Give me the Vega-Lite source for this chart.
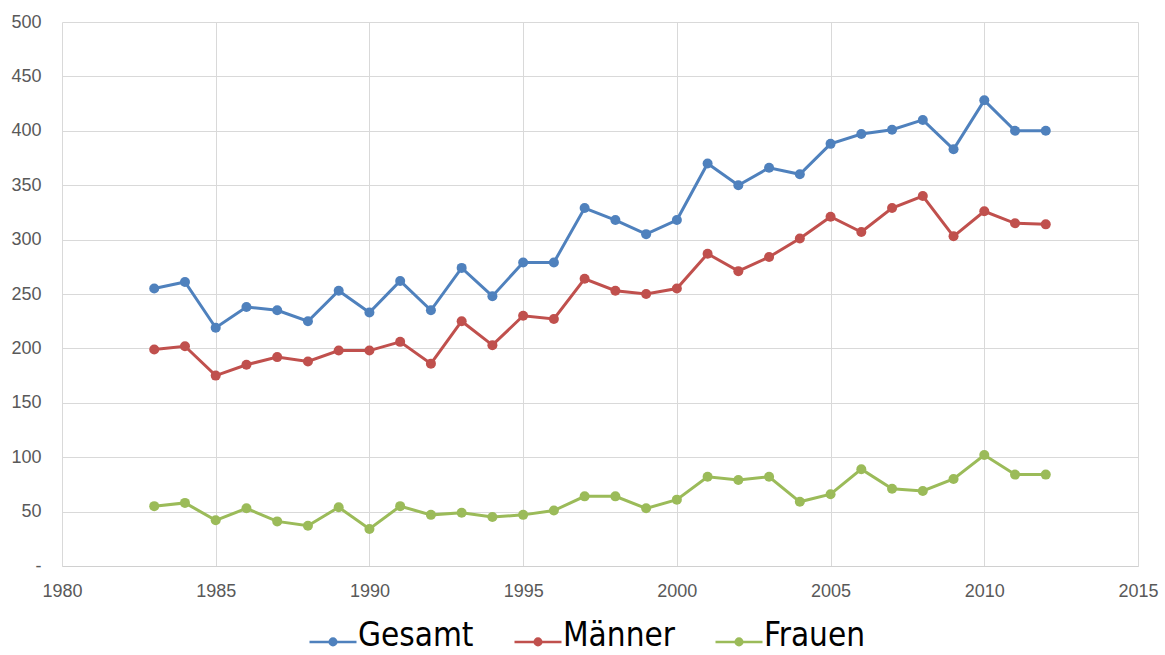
{
  "$schema": "https://vega.github.io/schema/vega-lite/v6.json",
  "width": 1076,
  "height": 544,
  "autosize": {"type": "none"},
  "padding": {"left": 62, "top": 22, "right": 27, "bottom": 89},
  "background": "white",
  "config": {
    "view": {"stroke": null},
    "axis": {
      "labelFont": "Liberation Sans",
      "labelFontSize": 18,
      "labelColor": "#595959",
      "gridColor": "#d9d9d9",
      "gridWidth": 1,
      "domainColor": "#d0d0d0",
      "ticks": false,
      "title": null
    }
  },
  "data": {
    "values": [
      {"Jahr": 1983, "Reihe": "Gesamt", "Wert": 255},
      {"Jahr": 1984, "Reihe": "Gesamt", "Wert": 261},
      {"Jahr": 1985, "Reihe": "Gesamt", "Wert": 219},
      {"Jahr": 1986, "Reihe": "Gesamt", "Wert": 238},
      {"Jahr": 1987, "Reihe": "Gesamt", "Wert": 235},
      {"Jahr": 1988, "Reihe": "Gesamt", "Wert": 225},
      {"Jahr": 1989, "Reihe": "Gesamt", "Wert": 253},
      {"Jahr": 1990, "Reihe": "Gesamt", "Wert": 233},
      {"Jahr": 1991, "Reihe": "Gesamt", "Wert": 262},
      {"Jahr": 1992, "Reihe": "Gesamt", "Wert": 235},
      {"Jahr": 1993, "Reihe": "Gesamt", "Wert": 274},
      {"Jahr": 1994, "Reihe": "Gesamt", "Wert": 248},
      {"Jahr": 1995, "Reihe": "Gesamt", "Wert": 279},
      {"Jahr": 1996, "Reihe": "Gesamt", "Wert": 279},
      {"Jahr": 1997, "Reihe": "Gesamt", "Wert": 329},
      {"Jahr": 1998, "Reihe": "Gesamt", "Wert": 318},
      {"Jahr": 1999, "Reihe": "Gesamt", "Wert": 305},
      {"Jahr": 2000, "Reihe": "Gesamt", "Wert": 318},
      {"Jahr": 2001, "Reihe": "Gesamt", "Wert": 370},
      {"Jahr": 2002, "Reihe": "Gesamt", "Wert": 350},
      {"Jahr": 2003, "Reihe": "Gesamt", "Wert": 366},
      {"Jahr": 2004, "Reihe": "Gesamt", "Wert": 360},
      {"Jahr": 2005, "Reihe": "Gesamt", "Wert": 388},
      {"Jahr": 2006, "Reihe": "Gesamt", "Wert": 397},
      {"Jahr": 2007, "Reihe": "Gesamt", "Wert": 401},
      {"Jahr": 2008, "Reihe": "Gesamt", "Wert": 410},
      {"Jahr": 2009, "Reihe": "Gesamt", "Wert": 383},
      {"Jahr": 2010, "Reihe": "Gesamt", "Wert": 428},
      {"Jahr": 2011, "Reihe": "Gesamt", "Wert": 400},
      {"Jahr": 2012, "Reihe": "Gesamt", "Wert": 400},
      {"Jahr": 1983, "Reihe": "Männer", "Wert": 199},
      {"Jahr": 1984, "Reihe": "Männer", "Wert": 202},
      {"Jahr": 1985, "Reihe": "Männer", "Wert": 175},
      {"Jahr": 1986, "Reihe": "Männer", "Wert": 185},
      {"Jahr": 1987, "Reihe": "Männer", "Wert": 192},
      {"Jahr": 1988, "Reihe": "Männer", "Wert": 188},
      {"Jahr": 1989, "Reihe": "Männer", "Wert": 198},
      {"Jahr": 1990, "Reihe": "Männer", "Wert": 198},
      {"Jahr": 1991, "Reihe": "Männer", "Wert": 206},
      {"Jahr": 1992, "Reihe": "Männer", "Wert": 186},
      {"Jahr": 1993, "Reihe": "Männer", "Wert": 225},
      {"Jahr": 1994, "Reihe": "Männer", "Wert": 203},
      {"Jahr": 1995, "Reihe": "Männer", "Wert": 230},
      {"Jahr": 1996, "Reihe": "Männer", "Wert": 227},
      {"Jahr": 1997, "Reihe": "Männer", "Wert": 264},
      {"Jahr": 1998, "Reihe": "Männer", "Wert": 253},
      {"Jahr": 1999, "Reihe": "Männer", "Wert": 250},
      {"Jahr": 2000, "Reihe": "Männer", "Wert": 255},
      {"Jahr": 2001, "Reihe": "Männer", "Wert": 287},
      {"Jahr": 2002, "Reihe": "Männer", "Wert": 271},
      {"Jahr": 2003, "Reihe": "Männer", "Wert": 284},
      {"Jahr": 2004, "Reihe": "Männer", "Wert": 301},
      {"Jahr": 2005, "Reihe": "Männer", "Wert": 321},
      {"Jahr": 2006, "Reihe": "Männer", "Wert": 307},
      {"Jahr": 2007, "Reihe": "Männer", "Wert": 329},
      {"Jahr": 2008, "Reihe": "Männer", "Wert": 340},
      {"Jahr": 2009, "Reihe": "Männer", "Wert": 303},
      {"Jahr": 2010, "Reihe": "Männer", "Wert": 326},
      {"Jahr": 2011, "Reihe": "Männer", "Wert": 315},
      {"Jahr": 2012, "Reihe": "Männer", "Wert": 314},
      {"Jahr": 1983, "Reihe": "Frauen", "Wert": 55},
      {"Jahr": 1984, "Reihe": "Frauen", "Wert": 58},
      {"Jahr": 1985, "Reihe": "Frauen", "Wert": 42},
      {"Jahr": 1986, "Reihe": "Frauen", "Wert": 53},
      {"Jahr": 1987, "Reihe": "Frauen", "Wert": 41},
      {"Jahr": 1988, "Reihe": "Frauen", "Wert": 37},
      {"Jahr": 1989, "Reihe": "Frauen", "Wert": 54},
      {"Jahr": 1990, "Reihe": "Frauen", "Wert": 34},
      {"Jahr": 1991, "Reihe": "Frauen", "Wert": 55},
      {"Jahr": 1992, "Reihe": "Frauen", "Wert": 47},
      {"Jahr": 1993, "Reihe": "Frauen", "Wert": 49},
      {"Jahr": 1994, "Reihe": "Frauen", "Wert": 45},
      {"Jahr": 1995, "Reihe": "Frauen", "Wert": 47},
      {"Jahr": 1996, "Reihe": "Frauen", "Wert": 51},
      {"Jahr": 1997, "Reihe": "Frauen", "Wert": 64},
      {"Jahr": 1998, "Reihe": "Frauen", "Wert": 64},
      {"Jahr": 1999, "Reihe": "Frauen", "Wert": 53},
      {"Jahr": 2000, "Reihe": "Frauen", "Wert": 61},
      {"Jahr": 2001, "Reihe": "Frauen", "Wert": 82},
      {"Jahr": 2002, "Reihe": "Frauen", "Wert": 79},
      {"Jahr": 2003, "Reihe": "Frauen", "Wert": 82},
      {"Jahr": 2004, "Reihe": "Frauen", "Wert": 59},
      {"Jahr": 2005, "Reihe": "Frauen", "Wert": 66},
      {"Jahr": 2006, "Reihe": "Frauen", "Wert": 89},
      {"Jahr": 2007, "Reihe": "Frauen", "Wert": 71},
      {"Jahr": 2008, "Reihe": "Frauen", "Wert": 69},
      {"Jahr": 2009, "Reihe": "Frauen", "Wert": 80},
      {"Jahr": 2010, "Reihe": "Frauen", "Wert": 102},
      {"Jahr": 2011, "Reihe": "Frauen", "Wert": 84},
      {"Jahr": 2012, "Reihe": "Frauen", "Wert": 84}
    ]
  },
  "mark": {
    "type": "line",
    "strokeWidth": 3,
    "point": {"filled": true, "size": 100, "opacity": 1}
  },
  "encoding": {
    "x": {
      "field": "Jahr",
      "type": "quantitative",
      "scale": {"domain": [1980, 2015], "nice": false, "zero": false},
      "axis": {
        "values": [1980, 1985, 1990, 1995, 2000, 2005, 2010, 2015],
        "format": "d",
        "labelPadding": 16,
        "labelFlush": false
      }
    },
    "y": {
      "field": "Wert",
      "type": "quantitative",
      "scale": {"domain": [0, 500], "nice": false},
      "axis": {
        "values": [0, 50, 100, 150, 200, 250, 300, 350, 400, 450, 500],
        "labelExpr": "datum.value === 0 ? '-' : datum.label",
        "labelPadding": 21,
        "domain": false
      }
    },
    "color": {
      "field": "Reihe",
      "type": "nominal",
      "scale": {
        "domain": ["Gesamt", "Männer", "Frauen"],
        "range": ["#4f81bd", "#c0504d", "#9bbb59"]
      },
      "legend": {
        "title": null,
        "orient": "none",
        "direction": "horizontal",
        "legendX": 246,
        "legendY": 589,
        "symbolType": "M-1,0.25H1M-0.14,0.25A0.14,0.14 0 1,0 0.14,0.25A0.14,0.14 0 1,0 -0.14,0.25Z",
        "symbolSize": 2209,
        "symbolStrokeWidth": 2.5,
        "labelFont": "DejaVu Sans Condensed",
        "labelFontSize": 33,
        "labelColor": "#000000",
        "labelOffset": 0,
        "columnPadding": 35,
        "encode": {
          "symbols": {
            "update": {
              "fill": {"scale": "color", "field": "value"},
              "stroke": {"scale": "color", "field": "value"},
              "opacity": {"value": 1}
            }
          }
        }
      }
    }
  }
}
